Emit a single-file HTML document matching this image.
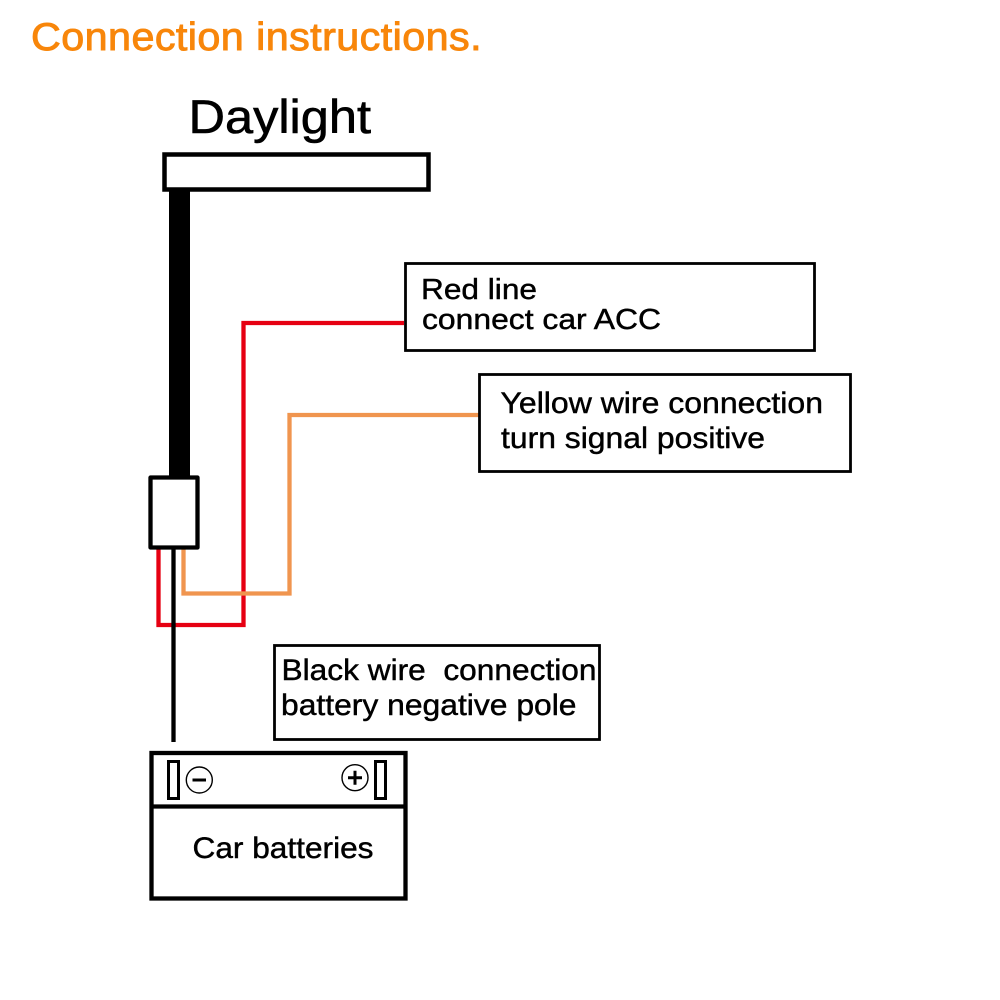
<!DOCTYPE html>
<html>
<head>
<meta charset="utf-8">
<style>
html,body{margin:0;padding:0;background:#fff;width:1000px;height:1000px;overflow:hidden}
svg{display:block}
text{font-family:"Liberation Sans",sans-serif;fill:#000;stroke:#000;stroke-width:.45px;white-space:pre}
</style>
</head>
<body>
<svg width="1000" height="1000" viewBox="0 0 1000 1000" xmlns="http://www.w3.org/2000/svg">
<rect width="1000" height="1000" fill="#fff"/>
<text x="31" y="50" font-size="39" style="fill:#f8860a;stroke:#f8860a;stroke-width:.9px;letter-spacing:.4px" textLength="451" lengthAdjust="spacingAndGlyphs">Connection instructions.</text>
<text x="188.500" y="133" font-size="47" style="stroke-width:.6px" textLength="182.500" lengthAdjust="spacingAndGlyphs">Daylight</text>
<rect x="169" y="189" width="21" height="289" fill="#000"/>
<rect x="164.500" y="154.500" width="264" height="35" fill="#fff" stroke="#000" stroke-width="4.500"/>
<path d="M404 323H243.500V625H158.500V548" fill="none" stroke="#e60012" stroke-width="4.300"/>
<path d="M479 415H289.500V593.500H183.500V548" fill="none" stroke="#f0954f" stroke-width="4.300"/>
<path d="M173.500 548V742" fill="none" stroke="#000" stroke-width="4.300"/>
<rect x="150.500" y="477.500" width="47" height="70" fill="#fff" stroke="#000" stroke-width="4.300" stroke-linejoin="round"/>
<rect x="405.500" y="263.500" width="409" height="87" fill="#fff" stroke="#000" stroke-width="2.800"/>
<text x="421" y="299" font-size="29" textLength="116" lengthAdjust="spacingAndGlyphs">Red line</text>
<text x="422" y="329" font-size="29" textLength="239" lengthAdjust="spacingAndGlyphs">connect car ACC</text>
<rect x="479.500" y="374.500" width="371" height="97" fill="#fff" stroke="#000" stroke-width="2.800"/>
<text x="500.500" y="413" font-size="30" textLength="322.500" lengthAdjust="spacingAndGlyphs">Yellow wire connection</text>
<text x="501" y="448" font-size="30" textLength="264" lengthAdjust="spacingAndGlyphs">turn signal positive</text>
<rect x="274.500" y="645.500" width="325" height="94" fill="#fff" stroke="#000" stroke-width="2.800"/>
<text x="281.500" y="680" font-size="30" textLength="315" lengthAdjust="spacingAndGlyphs">Black wire  connection</text>
<text x="281" y="715" font-size="30" textLength="295.500" lengthAdjust="spacingAndGlyphs">battery negative pole</text>
<rect x="151.500" y="753" width="254" height="145.500" fill="#fff" stroke="#000" stroke-width="4.300"/>
<path d="M152 806.500H405" stroke="#000" stroke-width="4.300" fill="none"/>
<rect x="168.500" y="761.500" width="10" height="37" fill="#fff" stroke="#000" stroke-width="3"/>
<rect x="375.500" y="761.500" width="10" height="37" fill="#fff" stroke="#000" stroke-width="3"/>
<circle cx="199.300" cy="780" r="13" fill="#fff" stroke="#000" stroke-width="1.400"/>
<path d="M192.500 780H206" stroke="#000" stroke-width="3"/>
<circle cx="355" cy="777.700" r="13" fill="#fff" stroke="#000" stroke-width="1.400"/>
<path d="M348 777.700H362M355 770.700V784.700" stroke="#000" stroke-width="3"/>
<text x="192.500" y="858" font-size="29.500" textLength="181" lengthAdjust="spacingAndGlyphs">Car batteries</text>
</svg>
</body>
</html>
